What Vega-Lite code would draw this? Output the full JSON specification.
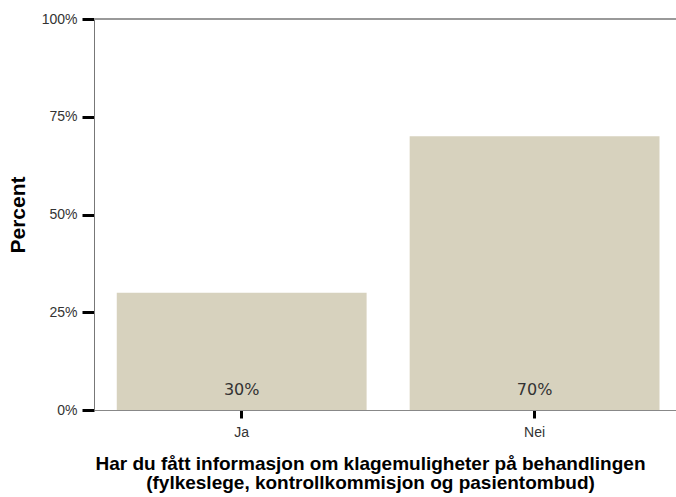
{
  "$schema": "https://vega.github.io/schema/vega-lite/v6.json",
  "width": 582,
  "height": 391,
  "autosize": {"type": "none"},
  "padding": {"left": 94, "top": 19, "right": 0, "bottom": 87},
  "background": "white",
  "config": {
    "view": {"stroke": null},
    "axis": {"labelFont": "Liberation Sans", "titleFont": "Liberation Sans", "grid": false}
  },
  "data": {"values": [
    {"answer": "Ja", "pct": 0.30, "label": "30%"},
    {"answer": "Nei", "pct": 0.70, "label": "70%"}
  ]},
  "layer": [
    {
      "mark": {"type": "bar", "color": "#d7d2be"},
      "encoding": {
        "x": {
          "field": "answer", "type": "nominal",
          "scale": {"paddingInner": 0.147, "paddingOuter": 0.067, "align": 0.58},
          "axis": {
            "title": ["Har du fått informasjon om klagemuligheter på behandlingen", "(fylkeslege, kontrollkommisjon og pasientombud)"],
            "titleFontSize": 19, "titleFontWeight": "bold", "titleColor": "#000",
            "titleX": 276, "titlePadding": 15, "titleLineHeight": 19,
            "labelAngle": 0, "labelFontSize": 14, "labelColor": "#333", "labelPadding": 7,
            "domainColor": "#888", "domainWidth": 1,
            "tickColor": "#000", "tickWidth": 3, "tickSize": 8
          }
        },
        "y": {
          "field": "pct", "type": "quantitative",
          "scale": {"domain": [0, 1]},
          "axis": {
            "title": "Percent", "titleFontSize": 21, "titleFontWeight": "bold", "titleColor": "#000",
            "titleX": -66,
            "values": [0, 0.25, 0.5, 0.75, 1], "format": ".0%",
            "labelFontSize": 14, "labelColor": "#333", "labelPadding": 5,
            "domainColor": "#777", "domainWidth": 1,
            "tickColor": "#000", "tickWidth": 3, "tickSize": 12
          }
        }
      }
    },
    {
      "mark": {"type": "rule", "color": "#999", "strokeWidth": 2},
      "encoding": {"y": {"datum": 1}}
    },
    {
      "mark": {"type": "text", "font": "DejaVu Sans", "fontSize": 16, "color": "#333", "baseline": "alphabetic", "dy": -15},
      "encoding": {
        "x": {"field": "answer", "type": "nominal"},
        "y": {"datum": 0},
        "text": {"field": "label"}
      }
    }
  ]
}
